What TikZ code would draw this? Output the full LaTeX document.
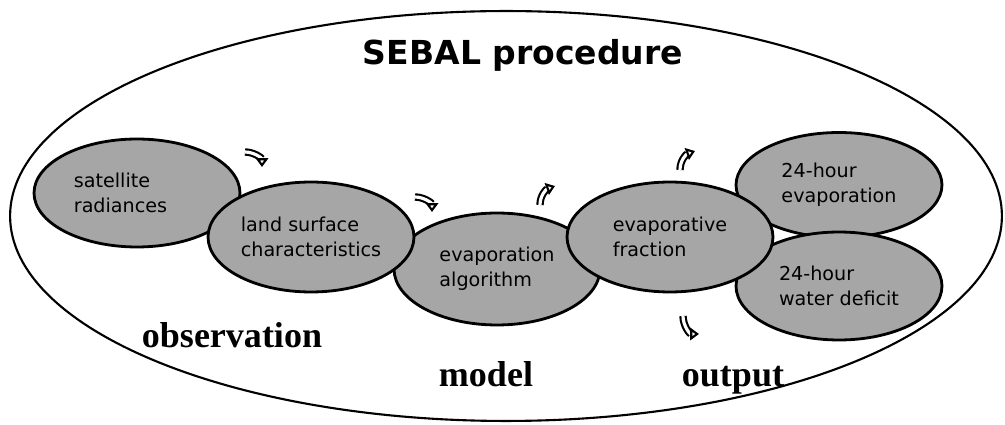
\documentclass[tikz,border=0pt]{standalone}
\usepackage{fontspec}
\usepackage{tikz}
\usetikzlibrary{shapes.geometric,arrows.meta}
\newfontfamily\boxfont{DejaVu Sans}
\newfontfamily\labelfont{Liberation Serif}
\definecolor{boxgray}{RGB}{166,166,166}

\begin{document}
\begin{tikzpicture}[x=0.02cm,y=-0.02cm,
	  blob/.style={ellipse,draw,line width=1.6pt,fill=boxgray,minimum width=4.12cm,
	    minimum height=2.2cm,inner sep=0pt,align=left,
	    font=\boxfont\fontsize{10.9}{14}\selectfont},
	  stage/.style={anchor=base,font=\labelfont\bfseries\fontsize{20.5}{24}\selectfont},
	  icon/.style={line width=1.2pt,double=white,double distance=1.8pt,
	    -{Triangle[open,length=5pt,width=7pt,line width=1.2pt]}}]
	  \useasboundingbox (0,0) rectangle (1005,425);
	  \draw [line width=1.2pt] (506,216) ellipse [x radius=9.92cm, y radius=4.1cm];
	  \node [anchor=base,font=\boxfont\bfseries\fontsize{18.8}{22}\selectfont] (title) at (523,65) {SEBAL procedure};
	  \node [blob,minimum height=2.16cm] (sat) at (137,193) {satellite\\radiances\hspace*{0.66cm}};
	  \node [blob,minimum height=2.24cm] (algo) at (497,269) {evaporation\\algorithm};
	  \node [blob,minimum height=2.1cm] (evap) at (839,185) {24-hour\\evaporation};
	  \node [blob,minimum height=2.16cm] (deficit) at (839,286) {24-hour\\water deficit};
	  \node [blob] (land) at (311,237) {land surface\\characteristics};
	  \node [blob] (frac) at (670,237) {evaporative\\fraction};
	  \node [stage] (obs) at (232,348) {observation};
	  \node [stage] (model) at (486,387) {model};
	  \node [stage] (out) at (733,387) {output};
	  \draw [icon] (245,152) to [out=0,in=90] (262,167);
	  \draw [icon] (415,197) to [out=0,in=90] (432,212);
	  \draw [icon] (540,205) to [out=90,in=200] (555,186);
	  \draw [icon] (680,170) to [out=90,in=200] (695,151);
	  \draw [icon] (683,316) to [out=-90,in=180] (699,334);
	 \end{tikzpicture}
\end{document}
